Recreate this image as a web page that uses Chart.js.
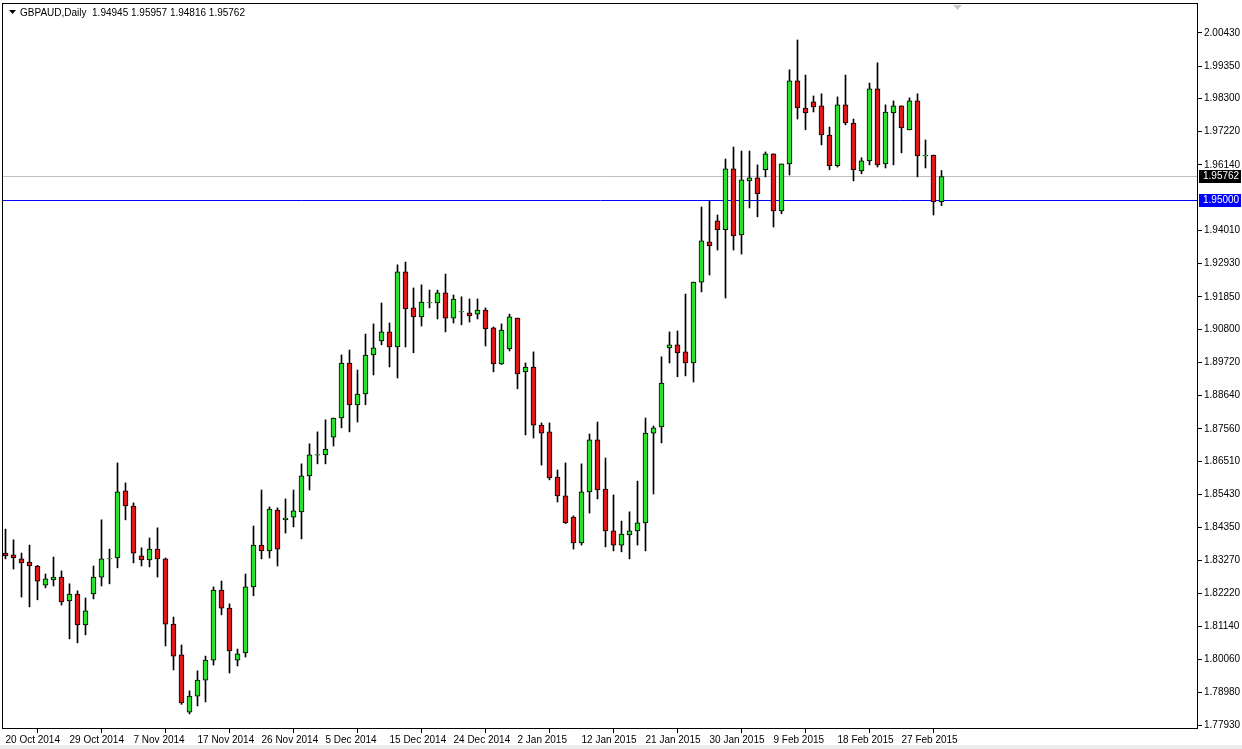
<!DOCTYPE html>
<html>
<head>
<meta charset="utf-8">
<script src="https://cdn.jsdelivr.net/npm/chart.js@4"></script>
<style>
  html, body { margin: 0; padding: 0; background: #fff; }
</style>
</head>
<body>
<canvas id="chart" width="1242" height="749"></canvas>
<script>
/*
    GBPAUD daily candles, drawn with Chart.js floating bars.
*/

// Data (one value per daily bar, Sunday bars included)
const symbol = 'GBPAUD';
const period = 'Daily';

const openPrices = [
  1.8352, 1.8346, 1.8333, 1.8323, 1.8310, 1.8248, 1.8265, 1.8274, 1.8196, 1.8219,
  1.8118, 1.8219, 1.8274, 1.8333, 1.8336, 1.8554, 1.8505, 1.8343, 1.8330, 1.8365,
  1.8333, 1.8121, 1.8021, 1.7835, 1.7887, 1.7939, 1.8004, 1.8232, 1.8173, 1.8004,
  1.8027, 1.8242, 1.8378, 1.8359, 1.8492, 1.8460, 1.8469, 1.8486, 1.8603, 1.8670,
  1.8671, 1.8729, 1.8791, 1.8970, 1.8834, 1.8869, 1.8996, 1.9042, 1.9071, 1.9022,
  1.9266, 1.9149, 1.9120, 1.9165, 1.9165, 1.9198, 1.9116, 1.9136, 1.9133, 1.9129,
  1.9142, 1.9084, 1.8967, 1.9016, 1.9116, 1.8941, 1.8957, 1.8768, 1.8746, 1.8599,
  1.8538, 1.8469, 1.8385, 1.8551, 1.8720, 1.8560, 1.8424, 1.8378, 1.8411, 1.8424,
  1.8450, 1.8742, 1.8762, 1.9019, 1.9029, 1.9006, 1.8970, 1.9233, 1.9364, 1.9432,
  1.9403, 1.9601, 1.9386, 1.9562, 1.9572, 1.9598, 1.9650, 1.9464, 1.9617, 1.9887,
  1.9799, 1.9819, 1.9806, 1.9711, 1.9611, 1.9809, 1.9750, 1.9594, 1.9627, 1.9861,
  1.9617, 1.9783, 1.9806, 1.9728, 1.9822, 1.9643, 1.9646, 1.94945
];
const highPrices = [
  1.8430, 1.8395, 1.8352, 1.8378, 1.8312, 1.8284, 1.8339, 1.8294, 1.8252, 1.8229,
  1.8206, 1.8310, 1.8460, 1.8365, 1.8645, 1.8580, 1.8515, 1.8369, 1.8401, 1.8434,
  1.8336, 1.8144, 1.8053, 1.7904, 1.7969, 1.8017, 1.8242, 1.8261, 1.8187, 1.8040,
  1.8284, 1.8440, 1.8557, 1.8502, 1.8499, 1.8528, 1.8557, 1.8642, 1.8707, 1.8746,
  1.8785, 1.8791, 1.8996, 1.9012, 1.8947, 1.9064, 1.9097, 1.9165, 1.9100, 1.9289,
  1.9298, 1.9214, 1.9224, 1.9207, 1.9207, 1.9259, 1.9191, 1.9185, 1.9178, 1.9178,
  1.9149, 1.9087, 1.9097, 1.9129, 1.9116, 1.8970, 1.9006, 1.8775, 1.8775, 1.8622,
  1.8645, 1.8473, 1.8642, 1.8739, 1.8778, 1.8661, 1.8541, 1.8456, 1.8486, 1.8586,
  1.8791, 1.8765, 1.8990, 1.9071, 1.9074, 1.9194, 1.9233, 1.9477, 1.9497, 1.9451,
  1.9633, 1.9672, 1.9659, 1.9659, 1.9614, 1.9656, 1.9650, 1.9617, 1.9923, 2.0020,
  1.9906, 1.9838, 1.9845, 1.9737, 1.9835, 1.9906, 1.9763, 1.9637, 1.9880, 1.9946,
  1.9809, 1.9822, 1.9806, 1.9832, 1.9845, 1.9695, 1.9646, 1.95957
];
const lowPrices = [
  1.8333, 1.8300, 1.8209, 1.8177, 1.8200, 1.8239, 1.8245, 1.8183, 1.8073, 1.8060,
  1.8086, 1.8203, 1.8245, 1.8252, 1.8304, 1.8460, 1.8320, 1.8310, 1.8307, 1.8274,
  1.8050, 1.7972, 1.7860, 1.7829, 1.7855, 1.7868, 1.7988, 1.8151, 1.7962, 1.7985,
  1.8014, 1.8213, 1.8333, 1.8336, 1.8310, 1.8417, 1.8437, 1.8398, 1.8557, 1.8642,
  1.8642, 1.8700, 1.8759, 1.8746, 1.8778, 1.8834, 1.8931, 1.9029, 1.8957, 1.8921,
  1.9022, 1.9003, 1.9090, 1.9149, 1.9113, 1.9071, 1.9100, 1.9094, 1.9103, 1.9113,
  1.9025, 1.8941, 1.8965, 1.9009, 1.8886, 1.8736, 1.8726, 1.8638, 1.8590, 1.8518,
  1.8448, 1.8365, 1.8378, 1.8482, 1.8528, 1.8372, 1.8359, 1.8356, 1.8333, 1.8378,
  1.8359, 1.8544, 1.8710, 1.8970, 1.8925, 1.8928, 1.8908, 1.9201, 1.9256, 1.9337,
  1.9181, 1.9337, 1.9324, 1.9474, 1.9445, 1.9575, 1.9412, 1.9455, 1.9581, 1.9763,
  1.9728, 1.9786, 1.9679, 1.9598, 1.9607, 1.9744, 1.9562, 1.9585, 1.9614, 1.9607,
  1.9604, 1.9614, 1.9653, 1.9728, 1.9575, 1.9604, 1.9451, 1.94816
];
const closePrices = [
  1.8343, 1.8336, 1.8320, 1.8310, 1.8261, 1.8268, 1.8274, 1.8193, 1.8219, 1.8118,
  1.8164, 1.8274, 1.8333, 1.8334, 1.8551, 1.8505, 1.8352, 1.8330, 1.8365, 1.8333,
  1.8121, 1.8017, 1.7865, 1.7887, 1.7939, 1.8004, 1.8232, 1.8173, 1.8034, 1.8024,
  1.8242, 1.8378, 1.8359, 1.8495, 1.8365, 1.8466, 1.8489, 1.8603, 1.8671, 1.8672,
  1.8690, 1.8791, 1.8970, 1.8834, 1.8869, 1.8996, 1.9019, 1.9071, 1.9022, 1.9266,
  1.9146, 1.9120, 1.9168, 1.9166, 1.9198, 1.9116, 1.9178, 1.9137, 1.9123, 1.9142,
  1.9081, 1.8967, 1.9077, 1.9120, 1.8934, 1.8957, 1.8768, 1.8742, 1.8596, 1.8538,
  1.8450, 1.8385, 1.8551, 1.8720, 1.8557, 1.8424, 1.8378, 1.8414, 1.8424, 1.8450,
  1.8742, 1.8759, 1.8905, 1.9029, 1.9003, 1.8970, 1.9233, 1.9367, 1.9351, 1.9403,
  1.9601, 1.9383, 1.9565, 1.9572, 1.9520, 1.9650, 1.9464, 1.9617, 1.9887, 1.9799,
  1.9783, 1.9802, 1.9711, 1.9611, 1.9809, 1.9750, 1.9598, 1.9627, 1.9861, 1.9614,
  1.9786, 1.9806, 1.9734, 1.9822, 1.9643, 1.9645, 1.9494, 1.95762
];

// Time axis labels, one every 8 bars
const dateLabels = [
  '20 Oct 2014', '29 Oct 2014', '7 Nov 2014', '17 Nov 2014', '26 Nov 2014',
  '5 Dec 2014', '15 Dec 2014', '24 Dec 2014', '2 Jan 2015', '12 Jan 2015',
  '21 Jan 2015', '30 Jan 2015', '9 Feb 2015', '18 Feb 2015', '27 Feb 2015'
];
const labelEvery = 8;

// Price axis labels
const priceTicks = [
  1.7793, 1.7898, 1.8006, 1.8114, 1.8222, 1.8327, 1.8435, 1.8543, 1.8651, 1.8756,
  1.8864, 1.8972, 1.9080, 1.9185, 1.9293, 1.9401, 1.9614, 1.9722, 1.9830, 1.9935, 2.0043
];
const priceMin = 1.77800;
const priceMax = 2.01370;

// Horizontal lines: bid line and a level line
const bidLevel = 1.95762;
const levelLine = 1.95000;

const bullColor = '#2ee02e';
const bearColor = '#dc1a1a';
const levelColor = '#0000ff';
const axisFont = { family: "'Liberation Sans', Arial, sans-serif", size: 10 };

// Build datasets
const wicks = [];
const bodies = [];
const bodyColors = [];
for (let i = 0; i < openPrices.length; i++) {
  const o = openPrices[i], c = closePrices[i];
  let lo = Math.min(o, c), hi = Math.max(o, c);
  if (hi - lo < 0.0001) { hi = lo + 0.0001; }
  wicks.push({ x: i, y: [lowPrices[i], highPrices[i]] });
  bodies.push({ x: i, y: [lo, hi] });
  bodyColors.push(c >= o ? bullColor : bearColor);
}

// Extra drawing: background, level lines, frame, header and price tags
const overlay = {
  id: 'overlay',
  beforeDraw(chart) {
    const ctx = chart.ctx;
    ctx.save();
    ctx.fillStyle = '#fff';
    ctx.fillRect(0, 0, chart.width, chart.height);
    ctx.fillStyle = '#ececec';
    ctx.fillRect(0, 745, chart.width, 4);
    ctx.restore();
  },
  beforeDatasetsDraw(chart) {
    const ctx = chart.ctx;
    const a = chart.chartArea;
    const y = chart.scales.y;
    ctx.save();
    ctx.lineWidth = 1;
    let py = Math.round(y.getPixelForValue(bidLevel)) + 0.5;
    ctx.strokeStyle = '#c0c0c0';
    ctx.beginPath(); ctx.moveTo(a.left, py); ctx.lineTo(a.right, py); ctx.stroke();
    py = Math.round(y.getPixelForValue(levelLine)) + 0.5;
    ctx.strokeStyle = levelColor;
    ctx.beginPath(); ctx.moveTo(a.left, py); ctx.lineTo(a.right, py); ctx.stroke();
    ctx.restore();
  },
  afterDraw(chart) {
    const ctx = chart.ctx;
    const a = chart.chartArea;
    const y = chart.scales.y;
    ctx.save();
    // chart frame
    ctx.strokeStyle = '#000';
    ctx.lineWidth = 1;
    ctx.strokeRect(Math.round(a.left) - 0.5, Math.round(a.top) - 0.5,
      Math.round(a.right - a.left), Math.round(a.bottom - a.top));

    // header
    const n = openPrices.length - 1;
    ctx.fillStyle = '#000';
    ctx.beginPath();
    ctx.moveTo(9, 10); ctx.lineTo(16, 10); ctx.lineTo(12.5, 14); ctx.closePath();
    ctx.fill();
    ctx.font = "10px 'Liberation Sans', Arial, sans-serif";
    ctx.textBaseline = 'middle';
    ctx.textAlign = 'left';
    const head = symbol + ',' + period + '  ' + [openPrices[n], highPrices[n], lowPrices[n], closePrices[n]]
      .map(v => v.toFixed(5)).join(' ');
    ctx.fillText(head, 20, 13);

    // chart shift marker
    ctx.fillStyle = '#c8c8c8';
    ctx.beginPath();
    ctx.moveTo(953, a.top + 1); ctx.lineTo(962, a.top + 1); ctx.lineTo(957.5, a.top + 6); ctx.closePath();
    ctx.fill();

    // price tags
    const tags = [[bidLevel, '#000'], [levelLine, levelColor]];
    tags.forEach(([v, col]) => {
      const py = Math.round(y.getPixelForValue(v));
      ctx.fillStyle = col;
      ctx.fillRect(a.right + 1, py - 6, 42, 13);
      ctx.fillStyle = '#fff';
      ctx.fillText(v.toFixed(5), a.right + 5, py + 0.5);
    });
    ctx.restore();
  }
};

const xMin = -0.3125;
const ctx = document.getElementById('chart').getContext('2d');
const chart = new Chart(ctx, {
  type: 'bar',
  data: {
    datasets: [
      {
        label: 'body',
        data: bodies,
        backgroundColor: bodyColors,
        borderColor: '#000',
        borderWidth: 1,
        borderSkipped: false,
        barThickness: 5,
        grouped: false,
        order: 0
      },
      {
        label: 'wick',
        data: wicks,
        backgroundColor: '#000',
        borderWidth: 0,
        barThickness: 1,
        grouped: false,
        order: 1
      }
    ]
  },
  options: {
    responsive: false,
    animation: false,
    devicePixelRatio: 1,
    layout: { padding: { left: 3, top: 4, right: 0, bottom: 0 } },
    plugins: { legend: { display: false }, tooltip: { enabled: false } },
    scales: {
      x: {
        type: 'linear',
        min: xMin,
        max: xMin + 1195 / 8,
        offset: false,
        border: { display: false },
        grid: { drawOnChartArea: false, drawTicks: true, tickLength: 4, color: '#000' },
        afterBuildTicks: s => {
          s.ticks = dateLabels.map((d, k) => ({ value: k * labelEvery }));
        },
        ticks: {
          autoSkip: false,
          maxRotation: 0,
          align: 'start',
          padding: 1,
          color: '#000',
          font: axisFont,
          callback: v => dateLabels[Math.round(v / labelEvery)]
        },
        afterFit: s => {
          s.height = 20;
          s.paddingLeft = 0;
          s.paddingRight = 0;
        }
      },
      y: {
        position: 'right',
        min: priceMin,
        max: priceMax,
        border: { display: false },
        grid: { drawOnChartArea: false, drawTicks: true, tickLength: 4, color: '#000' },
        afterBuildTicks: s => {
          s.ticks = priceTicks.map(v => ({ value: v }));
        },
        ticks: {
          padding: 2,
          color: '#000',
          font: axisFont,
          callback: v => v.toFixed(5)
        },
        afterFit: s => {
          s.width = 44;
          s.paddingTop = 0;
          s.paddingBottom = 0;
        }
      }
    }
  },
  plugins: [overlay]
});
</script>
</body>
</html>
